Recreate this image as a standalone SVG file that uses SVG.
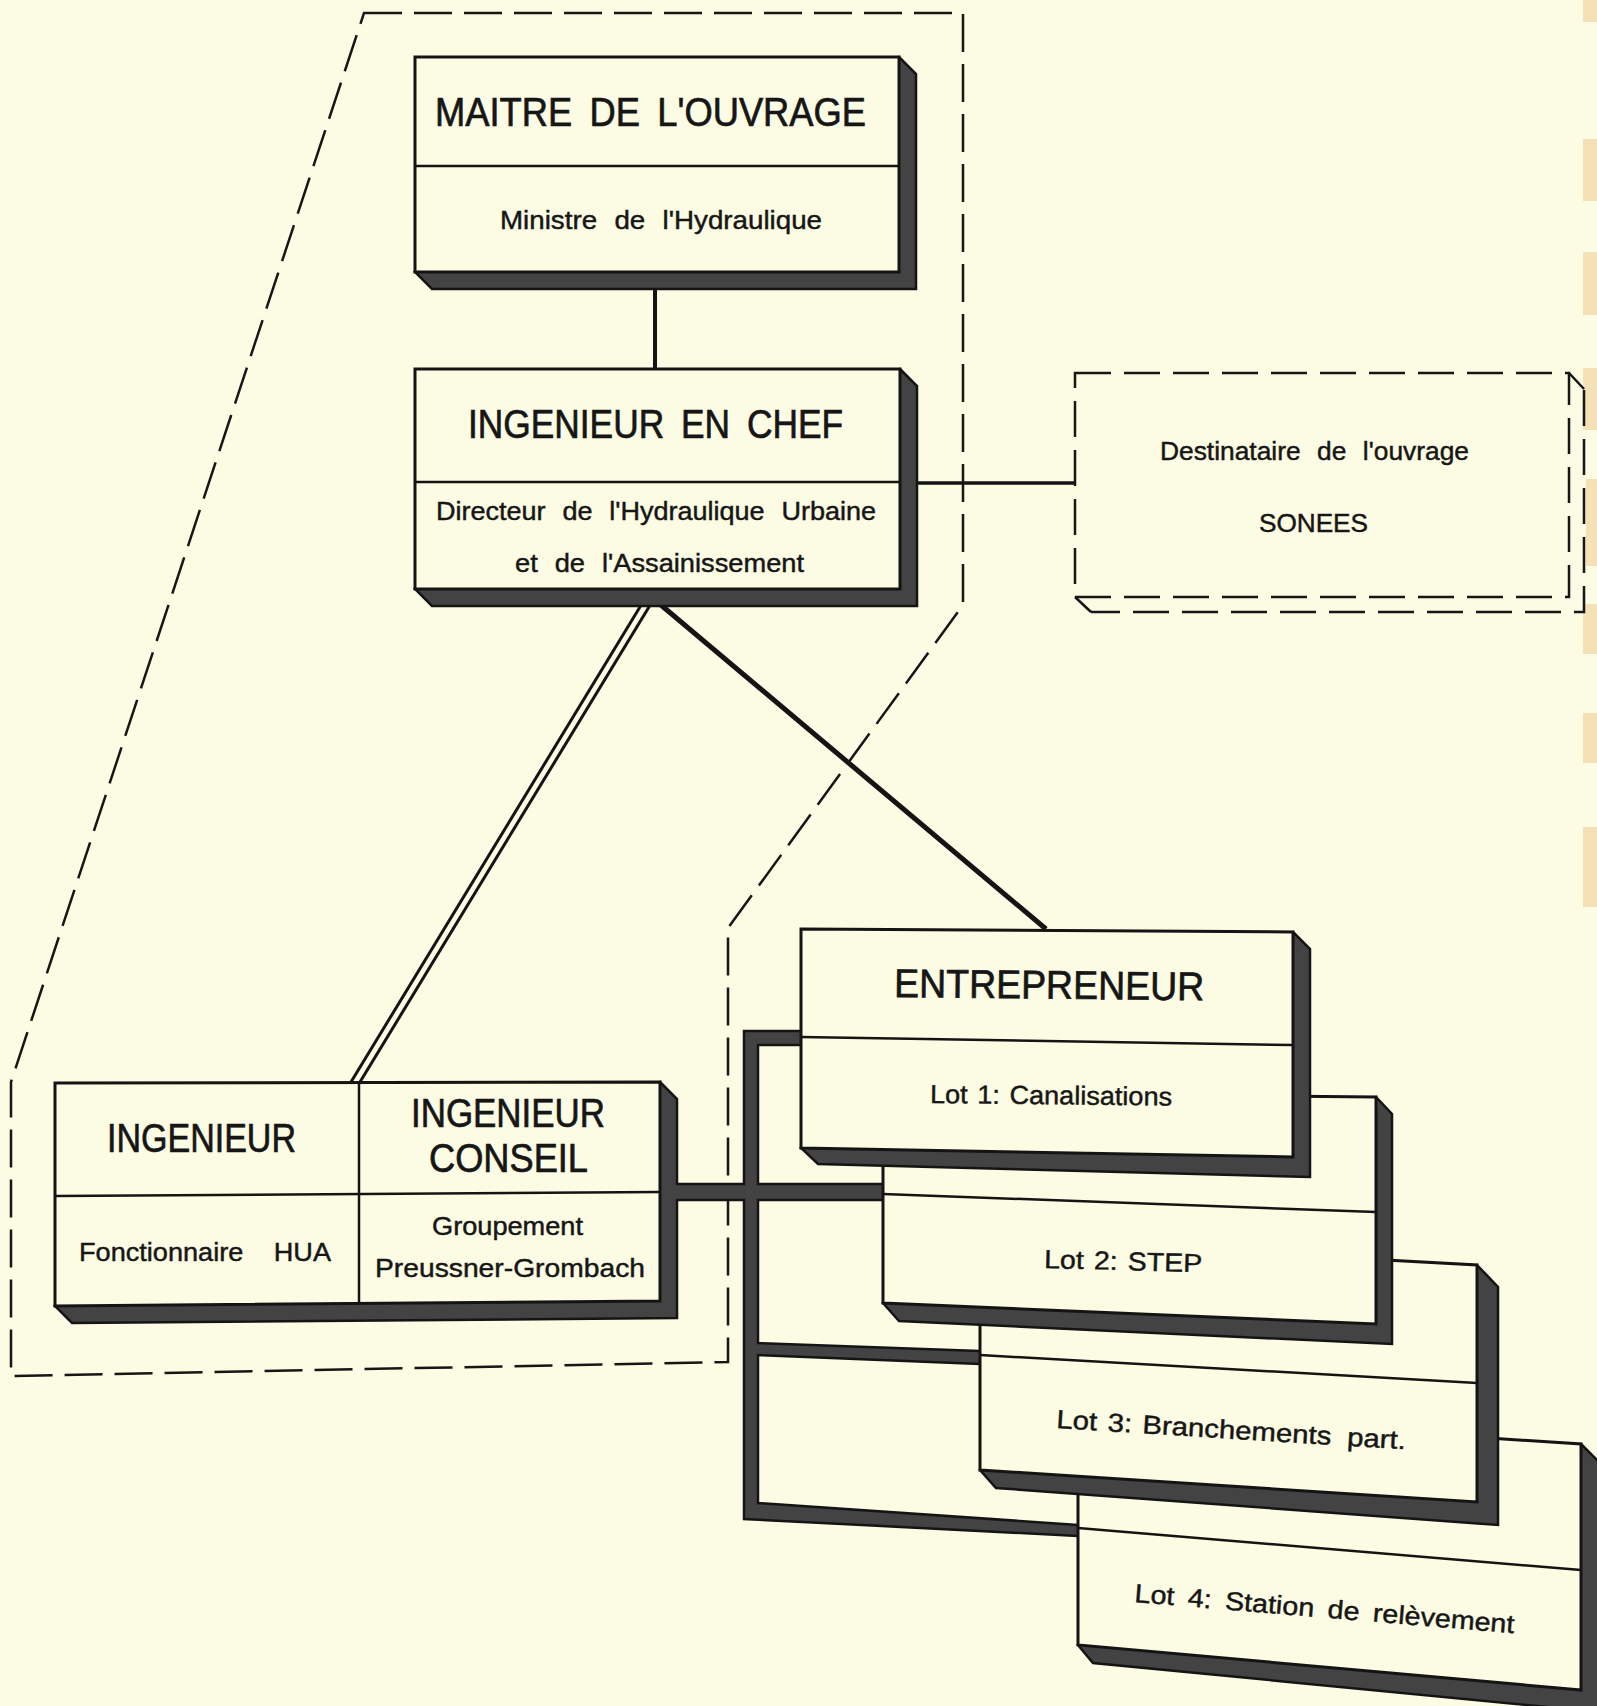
<svg xmlns="http://www.w3.org/2000/svg" width="1597" height="1706" viewBox="0 0 1597 1706">
<style>
.face{fill:#fcfbe3;stroke:#141414;stroke-width:3;stroke-linejoin:miter}
.shadow{fill:#434343;stroke:#141414;stroke-width:2.5;stroke-linejoin:miter}
.div{fill:none;stroke:#141414;stroke-width:2.5}
.t{font-family:"Liberation Sans",Arial,sans-serif;fill:#161616;stroke:#161616}
.title{font-size:40px;word-spacing:8px;stroke-width:0.7px}
.sub{font-size:26px;word-spacing:9px;stroke-width:0.45px}
.lot{word-spacing:2px}
.dash{fill:none;stroke:#161616;stroke-width:2.5;stroke-dasharray:38 12}
.dbox{fill:none;stroke:#161616;stroke-width:2.5;stroke-dasharray:36 13}
.line{fill:none;stroke:#141414;stroke-linecap:butt}
.band{fill:#434343;stroke:none}
.bandedge{fill:none;stroke:#141414;stroke-width:2.5;stroke-linejoin:miter}
.tan{fill:#f5e1b6}
</style>
<rect x="0" y="0" width="1597" height="1706" fill="#fcfbe3"/>
<g id="page-edge">
<rect class="tan" x="1583" y="0" width="14" height="22"/>
<rect class="tan" x="1583" y="139" width="14" height="62"/>
<rect class="tan" x="1583" y="252" width="14" height="63"/>
<rect class="tan" x="1583" y="368" width="14" height="62"/>
<rect class="tan" x="1586" y="479" width="11" height="87"/>
<rect class="tan" x="1583" y="604" width="14" height="50"/>
<rect class="tan" x="1583" y="713" width="14" height="50"/>
<rect class="tan" x="1583" y="827" width="14" height="80"/>
</g>
<g id="boundary">
<path class="dash" d="M364,13 L963,13 L963,605 L728,928 L728,1362 L11,1376 L11,1082 Z"/>
</g>
<g id="ingenieur">
<polygon class="shadow" points="660,1082 677,1099 677,1318 72,1323 55,1306"/>
<polygon class="face" points="55,1083 660,1082 660,1301 55,1306"/>
<line class="div" x1="55" y1="1196" x2="660" y2="1192"/>
<line class="div" x1="359" y1="1083" x2="359" y2="1304"/>
<text class="t title" x="107" y="1152" textLength="189" lengthAdjust="spacingAndGlyphs">INGENIEUR</text>
<text class="t title" x="411" y="1127" textLength="194" lengthAdjust="spacingAndGlyphs">INGENIEUR</text>
<text class="t title" x="429" y="1172" textLength="159" lengthAdjust="spacingAndGlyphs">CONSEIL</text>
<text class="t sub" x="79" y="1261" textLength="252" lengthAdjust="spacingAndGlyphs" style="word-spacing:22px">Fonctionnaire HUA</text>
<text class="t sub" x="432" y="1235" textLength="151" lengthAdjust="spacingAndGlyphs">Groupement</text>
<text class="t sub" x="375" y="1277" textLength="270" lengthAdjust="spacingAndGlyphs">Preussner-Grombach</text>
</g>
<g id="connectors">
<line class="line" x1="655" y1="285" x2="655" y2="370" stroke-width="4"/>
<line class="line" x1="912" y1="483" x2="1075" y2="483" stroke-width="3.5"/>
<line class="line" x1="655" y1="600" x2="1046" y2="929" stroke-width="5"/>
<line class="line" x1="643" y1="602" x2="351" y2="1082" stroke-width="3"/>
<line class="line" x1="652" y1="602" x2="360" y2="1082" stroke-width="3"/>
<path class="band" d="M744,1031 L801,1031 L801,1045 L758,1045 L758,1184 L883,1184 L883,1200 L758,1200 L758,1343 L980,1351 L980,1364 L758,1355 L758,1503 L1078,1525 L1078,1536 L744,1519 L744,1200 L675,1200 L675,1184 L744,1184 Z"/>
<path class="bandedge" d="M801,1031 L744,1031 L744,1184 L676,1184"/>
<path class="bandedge" d="M676,1200 L744,1200 L744,1519 L1078,1536"/>
<path class="bandedge" d="M801,1045 L758,1045 L758,1184 L883,1184"/>
<path class="bandedge" d="M883,1200 L758,1200 L758,1343 L980,1351"/>
<path class="bandedge" d="M980,1364 L758,1355 L758,1503 L1078,1525"/>
</g>
<g id="maitre">
<polygon class="shadow" points="899,57 916,74 916,289 432,289 415,272"/>
<rect class="face" x="415" y="57" width="484" height="215"/>
<line class="div" x1="415" y1="166" x2="899" y2="166"/>
<text class="t title" x="435" y="126" textLength="431" lengthAdjust="spacingAndGlyphs">MAITRE DE L'OUVRAGE</text>
<text class="t sub" x="500" y="229" textLength="322" lengthAdjust="spacingAndGlyphs">Ministre de l'Hydraulique</text>
</g>
<g id="ingenieur-en-chef">
<polygon class="shadow" points="900,369 917,386 917,606 432,606 415,589"/>
<rect class="face" x="415" y="369" width="485" height="220"/>
<line class="div" x1="415" y1="482" x2="900" y2="482"/>
<text class="t title" x="468" y="438" textLength="375" lengthAdjust="spacingAndGlyphs">INGENIEUR EN CHEF</text>
<text class="t sub" x="436" y="520" textLength="440" lengthAdjust="spacingAndGlyphs">Directeur de l'Hydraulique Urbaine</text>
<text class="t sub" x="515" y="572" textLength="289" lengthAdjust="spacingAndGlyphs">et de l'Assainissement</text>
</g>
<g id="destinataire">
<path class="dbox" d="M1584,390 L1584,612 L1091,612"/>
<path class="line" stroke-width="2.5" d="M1075,597 L1091,612 M1569,373 L1584,389"/>
<rect class="dbox" x="1075" y="373" width="494" height="224"/>
<text class="t sub" x="1160" y="460" textLength="309" lengthAdjust="spacingAndGlyphs">Destinataire de l'ouvrage</text>
<text class="t sub" x="1259" y="532" textLength="109" lengthAdjust="spacingAndGlyphs">SONEES</text>
</g>
<g id="lot4">
<polygon class="shadow" points="1581,1444 1599,1462 1599,1712 1093,1663 1078,1645"/>
<polygon class="face" points="1078,1411 1581,1444 1581,1690 1078,1645"/>
<line class="div" x1="1078" y1="1528" x2="1581" y2="1570"/>
<text class="t sub lot" x="1134" y="1602" textLength="381" lengthAdjust="spacingAndGlyphs" transform="rotate(4.7 1134 1602)" style="word-spacing:5px">Lot 4: Station de relèvement</text>
</g>
<g id="lot3">
<polygon class="shadow" points="1477,1265 1498,1287 1498,1525 996,1488 980,1470"/>
<polygon class="face" points="980,1238 1477,1265 1477,1502 980,1470"/>
<line class="div" x1="980" y1="1355" x2="1477" y2="1383"/>
<text class="t sub lot" x="1056" y="1428" textLength="350" lengthAdjust="spacingAndGlyphs" transform="rotate(3.5 1056 1428)">Lot 3: Branchements<tspan dx="14">part.</tspan></text>
</g>
<g id="lot2">
<polygon class="shadow" points="1376,1097 1392,1114 1392,1344 899,1321 883,1303"/>
<polygon class="face" points="883,1092 1376,1097 1376,1324 883,1303"/>
<line class="div" x1="883" y1="1194" x2="1376" y2="1212"/>
<text class="t sub lot" x="1044" y="1268" textLength="158" lengthAdjust="spacingAndGlyphs" transform="rotate(1.5 1044 1268)">Lot 2: STEP</text>
</g>
<g id="entrepreneur">
<polygon class="shadow" points="1293,932 1310,949 1310,1177 818,1164 801,1148"/>
<polygon class="face" points="801,929 1293,932 1293,1157 801,1148"/>
<line class="div" x1="801" y1="1037" x2="1293" y2="1045"/>
<text class="t title" x="894" y="997" textLength="310" lengthAdjust="spacingAndGlyphs" transform="rotate(0.6 894 997)">ENTREPRENEUR</text>
<text class="t sub lot" x="930" y="1103" textLength="242" lengthAdjust="spacingAndGlyphs" transform="rotate(0.6 930 1103)">Lot 1: Canalisations</text>
</g>
</svg>
